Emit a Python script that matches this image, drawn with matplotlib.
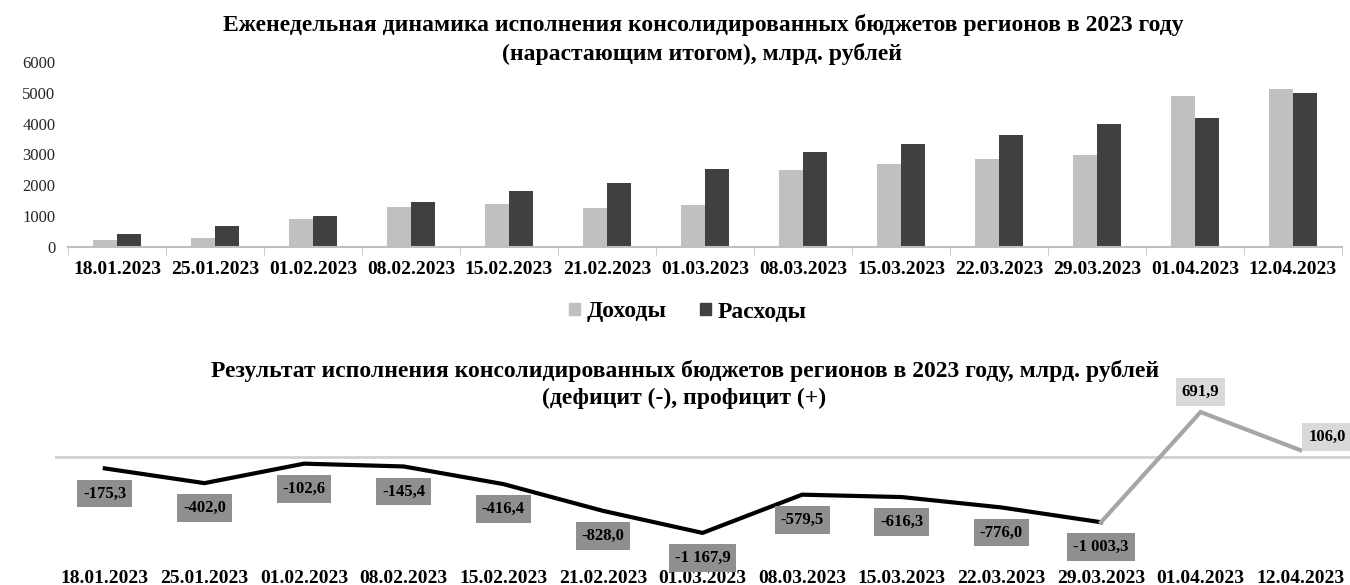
import matplotlib
matplotlib.use("Agg")
import matplotlib.pyplot as plt
import numpy as np
from matplotlib.patches import Patch

plt.rcParams['font.family'] = ['Liberation Serif', 'DejaVu Serif']

dates = ["18.01.2023", "25.01.2023", "01.02.2023", "08.02.2023", "15.02.2023",
         "21.02.2023", "01.03.2023", "08.03.2023", "15.03.2023", "22.03.2023",
         "29.03.2023", "01.04.2023", "12.04.2023"]
income = [237, 283, 900, 1309, 1406, 1266, 1354, 2510, 2705, 2867, 2997, 4890, 5110]
expense = [412, 682, 997, 1461, 1808, 2088, 2542, 3084, 3334, 3646, 3994, 4198, 5004]
balance = [-175.3, -402.0, -102.6, -145.4, -416.4, -828.0, -1167.9, -579.5,
           -616.3, -776.0, -1003.3, 691.9, 106.0]
yticks_top = [0, 1000, 2000, 3000, 4000, 5000, 6000]

W, H = 1350, 585
fig = plt.figure(figsize=(W / 100, H / 100), dpi=100)


def box(left, top, right, bottom):
    return [left / W, 1 - bottom / H, (right - left) / W, (bottom - top) / H]


c_inc = "#c0c0c0"
c_exp = "#404040"

# Upper panel: cumulative revenues and expenditures
ax1 = fig.add_axes(box(68, 62, 1342, 247))
x = np.arange(len(dates))
bw = 0.24
ax1.bar(x - bw / 2, income, bw, color=c_inc, label="Доходы")
ax1.bar(x + bw / 2, expense, bw, color=c_exp, label="Расходы")
ax1.set_xlim(-0.5, len(dates) - 0.5)
ax1.set_ylim(0, 6000)
ax1.set_yticks(yticks_top)
ax1.set_yticklabels([str(v) for v in yticks_top], fontsize=12, color="#262626")
ax1.tick_params(axis="y", length=0, pad=9)
ax1.set_xticks(x)
ax1.set_xticklabels(dates, fontsize=14, fontweight="bold")
ax1.tick_params(axis="x", length=0, pad=10)
ax1.set_xticks(np.arange(-0.5, len(dates), 1.0), minor=True)
ax1.tick_params(axis="x", which="minor", length=6, color="#bfbfbf", direction="out")
for s in ("top", "right", "left"):
    ax1.spines[s].set_visible(False)
ax1.spines["bottom"].set_color("#bfbfbf")
ax1.spines["bottom"].set_linewidth(1.5)

fig.text(703 / W, 1 - 25 / H,
         "Еженедельная динамика исполнения консолидированных бюджетов регионов в 2023 году",
         ha="center", va="center", fontsize=17, fontweight="bold")
fig.text(702 / W, 1 - 54 / H, "(нарастающим итогом), млрд. рублей",
         ha="center", va="center", fontsize=17, fontweight="bold")

handles = [Patch(color=c_inc, label="Доходы"), Patch(color=c_exp, label="Расходы")]
fig.legend(handles=handles, loc="center", bbox_to_anchor=(688 / W, 1 - 312 / H),
           ncol=2, frameon=False, prop={"size": 17, "weight": "bold"},
           handlelength=0.45, handleheight=0.45, handletextpad=0.3, columnspacing=1.4)

# Lower panel: deficit / surplus
ax2 = fig.add_axes(box(55, 398, 1350, 562))
ax2.set_xlim(-0.5, len(dates) - 0.5)
zero_px, scale = 457, 0.065
ax2.set_ylim(-(562 - zero_px) / scale, (zero_px - 398) / scale)
ax2.axhline(0, color="#d0d0d0", lw=2)
ax2.plot(x[:11], balance[:11], color="black", lw=3, solid_joinstyle="miter")
ax2.plot(x[10:], balance[10:], color="#a6a6a6", lw=3, solid_joinstyle="miter")


def fmt(v):
    return f"{v:,.1f}".replace(",", " ").replace(".", ",")


for i, v in enumerate(balance):
    ha = "center"
    if v < 0:
        off = (0, -25)
        fc = "#8f8f8f"
    elif i == len(balance) - 1:
        off = (8, 13)
        fc = "#d9d9d9"
        ha = "left"
    else:
        off = (0, 20)
        fc = "#d9d9d9"
    ax2.annotate(fmt(v), (x[i], v), xytext=off, textcoords="offset pixels",
                 ha=ha, va="center", fontsize=12, fontweight="bold",
                 bbox=dict(boxstyle="square,pad=0.35", fc=fc, ec="none"),
                 annotation_clip=False)

ax2.set_xticks(x)
ax2.set_xticklabels(dates, fontsize=14, fontweight="bold")
ax2.tick_params(axis="x", length=0, pad=6)
ax2.set_yticks([])
for s in ax2.spines.values():
    s.set_visible(False)
ax2.patch.set_alpha(0)

fig.text(685 / W, 1 - 371 / H,
         "Результат исполнения консолидированных бюджетов регионов в 2023 году, млрд. рублей",
         ha="center", va="center", fontsize=17, fontweight="bold")
fig.text(684 / W, 1 - 398 / H, "(дефицит (-), профицит (+)",
         ha="center", va="center", fontsize=17, fontweight="bold")

fig.savefig("out.png", dpi=100)
